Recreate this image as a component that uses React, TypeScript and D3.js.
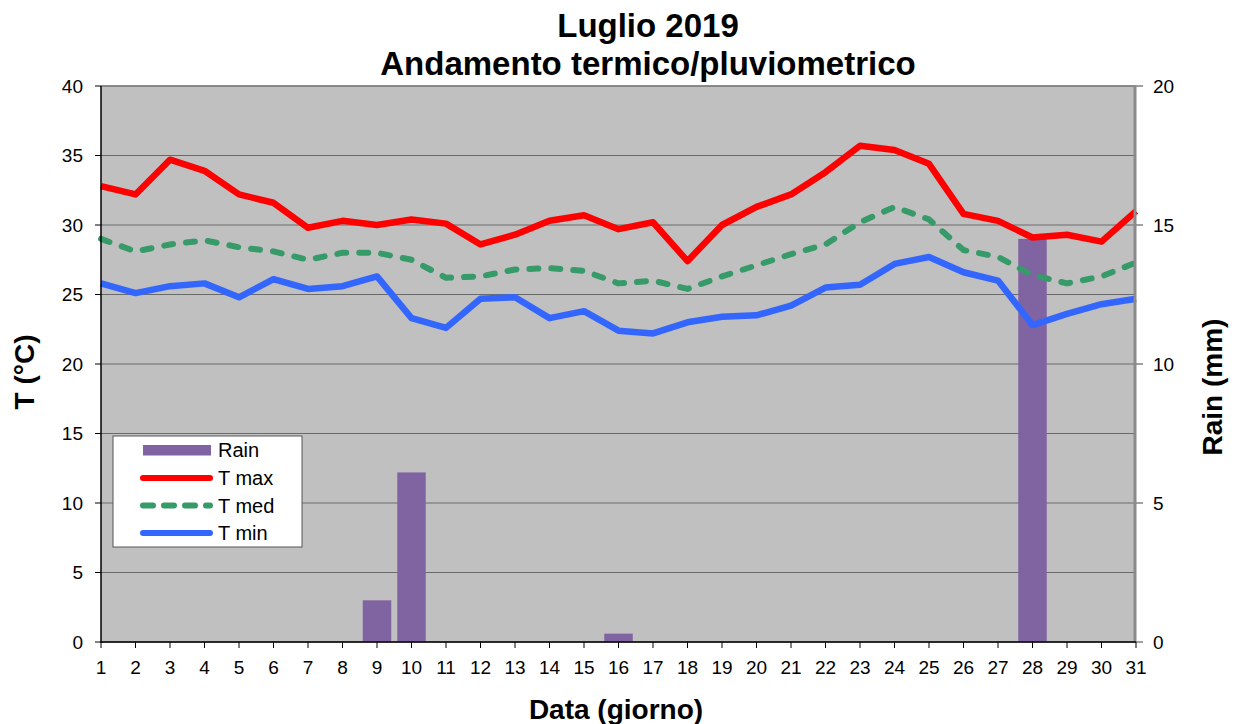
import React from "react";
import * as d3 from "d3";

const days = d3.range(1, 32);
const tMax = [32.8, 32.2, 34.7, 33.9, 32.2, 31.6, 29.8, 30.3, 30.0, 30.4, 30.1, 28.6, 29.3, 30.3, 30.7, 29.7, 30.2, 27.4, 30.0, 31.3, 32.2, 33.8, 35.7, 35.4, 34.4, 30.8, 30.3, 29.1, 29.3, 28.8, 31.0];
const tMed = [29.0, 28.1, 28.6, 28.9, 28.4, 28.1, 27.5, 28.0, 28.0, 27.5, 26.2, 26.3, 26.8, 26.9, 26.7, 25.8, 26.0, 25.4, 26.3, 27.1, 27.9, 28.6, 30.2, 31.3, 30.4, 28.2, 27.7, 26.4, 25.8, 26.3, 27.3];
const tMin = [25.8, 25.1, 25.6, 25.8, 24.8, 26.1, 25.4, 25.6, 26.3, 23.3, 22.6, 24.7, 24.8, 23.3, 23.8, 22.4, 22.2, 23.0, 23.4, 23.5, 24.2, 25.5, 25.7, 27.2, 27.7, 26.6, 26.0, 22.8, 23.6, 24.3, 24.7];
const rain = [0, 0, 0, 0, 0, 0, 0, 0, 1.5, 6.1, 0, 0, 0, 0, 0, 0.3, 0, 0, 0, 0, 0, 0, 0, 0, 0, 0, 0, 14.5, 0, 0, 0];
const leftTicks = [0, 5, 10, 15, 20, 25, 30, 35, 40];
const rightTicks = [0, 5, 10, 15, 20];

const W = 1236, H = 724;
const L = 101, R = 1136, T = 86, B = 642;
const FONT = "'Liberation Sans', Arial, sans-serif";

export default function App() {
  const x = d3.scaleLinear().domain([1, 31]).range([L, R]);
  const yT = d3.scaleLinear().domain([0, 40]).range([B, T]);
  const yR = d3.scaleLinear().domain([0, 20]).range([B, T]);
  const barW = 28.5;
  const line = (vals: number[]) =>
    d3.line<number>().x((_, i) => x(days[i])).y((v) => yT(v))(vals) || "";

  const legendItems = [
    { label: "T max", color: "#FF0000", dash: undefined as string | undefined },
    { label: "T med", color: "#379A69", dash: "9 13" },
    { label: "T min", color: "#3366FF", dash: undefined },
  ];

  return (
    <svg width={W} height={H} style={{ position: "absolute", left: 0, top: 0, background: "#fff" }} fontFamily={FONT}>
      <defs>
        <clipPath id="plot">
          <rect x={L} y={T} width={R - L} height={B - T} />
        </clipPath>
      </defs>
      <rect x={L} y={T} width={R - L} height={B - T} fill="#C0C0C0" />
      {leftTicks.map((t) => (
        <line key={"g" + t} x1={L} x2={R} y1={yT(t)} y2={yT(t)} stroke="#6a6a6a" strokeWidth={1} />
      ))}
      <g clipPath="url(#plot)">
        {rain.map((r, i) =>
          r > 0 ? (
            <rect key={"b" + i} x={x(days[i]) - barW / 2} y={yR(r)} width={barW} height={B - yR(r)} fill="#8064A2" />
          ) : null
        )}
      </g>
      <path d={line(tMed)} fill="none" stroke="#379A69" strokeWidth={6} strokeDasharray="9 13" strokeLinecap="round" strokeLinejoin="round" />
      <path d={line(tMax)} fill="none" stroke="#FF0000" strokeWidth={6.5} strokeLinejoin="round" />
      <path d={line(tMin)} fill="none" stroke="#3366FF" strokeWidth={6.5} strokeLinejoin="round" />

      {/* borders */}
      <line x1={L} x2={R} y1={T} y2={T} stroke="#808080" strokeWidth={1.5} />
      <line x1={R - 1} x2={R - 1} y1={T} y2={B} stroke="#8a8a8a" strokeWidth={3} />
      <line x1={L} x2={L} y1={T} y2={B + 1} stroke="#000" strokeWidth={1.5} />
      <line x1={L} x2={R} y1={B} y2={B} stroke="#000" strokeWidth={1.5} />

      {/* left axis */}
      {leftTicks.map((t) => (
        <g key={"l" + t}>
          <line x1={L - 6} x2={L} y1={yT(t)} y2={yT(t)} stroke="#000" />
          <text x={83} y={yT(t)} dy="0.35em" textAnchor="end" fontSize={19}>{t}</text>
        </g>
      ))}
      {/* right axis */}
      {rightTicks.map((t) => (
        <g key={"r" + t}>
          <line x1={R} x2={R + 7} y1={yR(t)} y2={yR(t)} stroke="#808080" strokeWidth={1.5} />
          <text x={1153} y={yR(t)} dy="0.35em" textAnchor="start" fontSize={19}>{t}</text>
        </g>
      ))}
      {/* bottom axis */}
      {days.map((d) => (
        <g key={"x" + d}>
          <line x1={x(d)} x2={x(d)} y1={B} y2={B + 6} stroke="#000" />
          <text x={x(d)} y={674} textAnchor="middle" fontSize={19}>{d}</text>
        </g>
      ))}

      {/* titles */}
      <text x={648} y={37} textAnchor="middle" fontSize={33} fontWeight="bold">Luglio 2019</text>
      <text x={648} y={75} textAnchor="middle" fontSize={33} fontWeight="bold">Andamento termico/pluviometrico</text>
      <text x={616} y={719} textAnchor="middle" fontSize={28} fontWeight="bold">Data (giorno)</text>
      <text transform="translate(34,372) rotate(-90)" textAnchor="middle" fontSize={28} fontWeight="bold">T (°C)</text>
      <text transform="translate(1222,387) rotate(-90)" textAnchor="middle" fontSize={28} fontWeight="bold">Rain (mm)</text>

      {/* legend */}
      <rect x={113} y={436} width={189} height={111} fill="#fff" stroke="#555" strokeWidth={1} />
      <rect x={143} y={445} width={68} height={10.5} fill="#8064A2" />
      <text x={218} y={450} dy="0.35em" fontSize={20}>Rain</text>
      {legendItems.map((it, i) => {
        const yy = 478 + i * 27.5;
        return (
          <g key={it.label}>
            <line x1={143} x2={210} y1={yy} y2={yy} stroke={it.color} strokeWidth={6} strokeLinecap="round" strokeDasharray={it.dash ? "10 11" : undefined} />
            <text x={218} y={yy} dy="0.35em" fontSize={20}>{it.label}</text>
          </g>
        );
      })}
    </svg>
  );
}
